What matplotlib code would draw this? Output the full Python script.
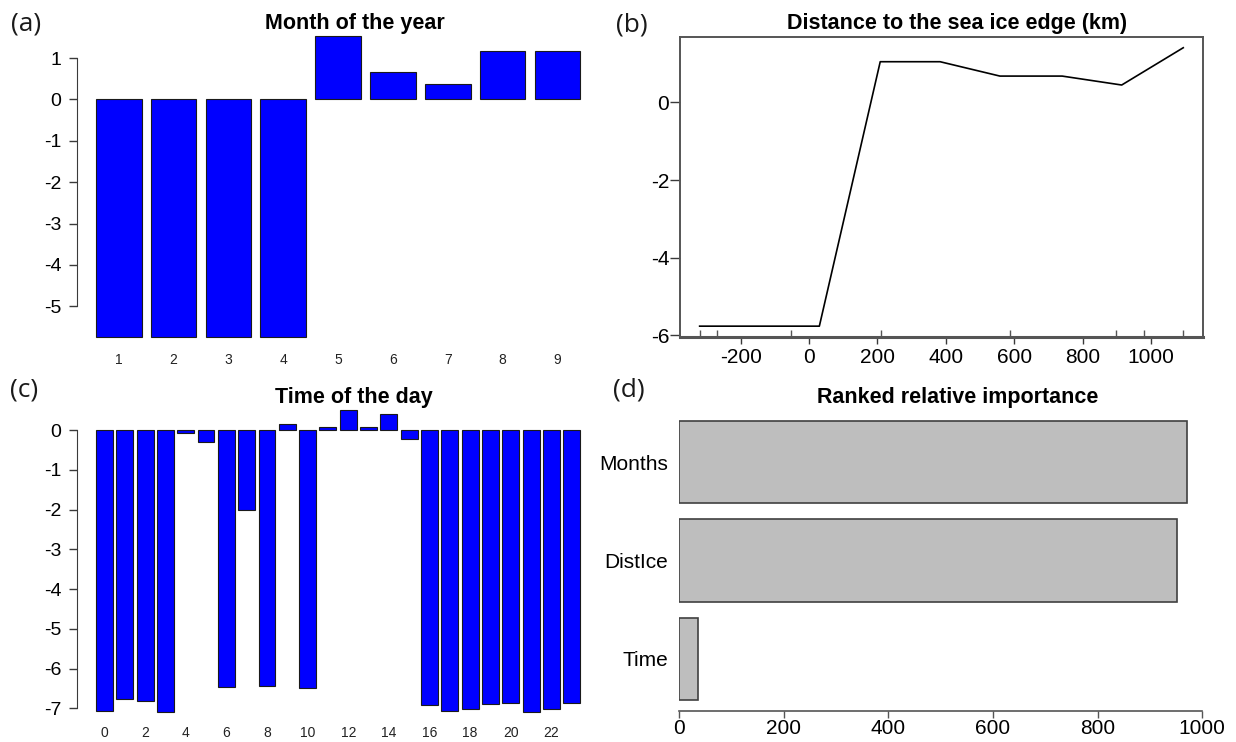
import numpy as np
import matplotlib
matplotlib.use('Agg')
import matplotlib.pyplot as plt

plt.rcParams['font.family'] = 'Liberation Sans'
plt.rcParams['axes.unicode_minus'] = False

# panel (a): month of the year
months = [1, 2, 3, 4, 5, 6, 7, 8, 9]
month_effect = [-5.74, -5.74, -5.74, -5.74, 1.53, 0.66, 0.37, 1.17, 1.17]

# panel (b): distance to the sea ice edge
dist_km = [-320, 30, 208, 383, 558, 740, 914, 1094]
dist_effect = [-5.76, -5.76, 1.05, 1.05, 0.68, 0.68, 0.45, 1.41]
rug_km = [-320, -269, -53, 210, 587, 896, 979, 1094]

# panel (c): time of the day
hours = list(range(24))
hour_effect = [-7.07, -6.77, -6.83, -7.09, -0.07, -0.29, -6.46, -2.00,
               -6.44, 0.15, -6.48, 0.09, 0.52, 0.07, 0.42, -0.22,
               -6.91, -7.07, -7.03, -6.90, -6.87, -7.10, -7.03, -6.87]

# panel (d): ranked relative importance (bottom to top)
imp_names = ['Time', 'DistIce', 'Months']
imp_values = [35.6, 952, 971.5]

W, H = 1236, 742
fig = plt.figure(figsize=(W / 100, H / 100), dpi=100)

AXC = '#3a3a3a'


def add_ax(left, top, right, bottom):
    return fig.add_axes([left / W, 1 - bottom / H, (right - left) / W, (bottom - top) / H])


def r_range(lo, hi):
    d = (hi - lo) * 0.04
    return lo - d, hi + d


def effect_bars(ax, labels, values, yticks, xlab_step, xlab_size):
    n = len(values)
    pos = [0.7 + 1.2 * i for i in range(n)]
    ax.bar(pos, values, width=1.0, color='#0000FF', edgecolor='#1a1a1a', linewidth=0.8)
    ax.set_xlim(*r_range(0.2, 1.2 * n))
    ax.set_ylim(*r_range(min(0, min(values)), max(0, max(values))))
    for s in ['top', 'right', 'bottom']:
        ax.spines[s].set_visible(False)
    ax.spines['left'].set_bounds(yticks[0], yticks[-1])
    ax.spines['left'].set_color(AXC)
    ax.set_yticks(yticks)
    ax.set_yticklabels([str(t) for t in yticks])
    ax.tick_params(axis='y', length=6, width=1, color=AXC, pad=5, labelsize=14)
    ax.set_xticks(pos[::xlab_step])
    ax.set_xticklabels([str(l) for l in labels[::xlab_step]])
    ax.tick_params(axis='x', length=0, pad=3, labelsize=xlab_size, labelcolor='#222222')


# (a)
ax_a = add_ax(76.6, 24.1, 599.6, 349.0)
effect_bars(ax_a, months, month_effect, [-5, -4, -3, -2, -1, 0, 1], 1, 10)

# (c)
ax_c = add_ax(76.6, 397.5, 599.6, 724.3)
effect_bars(ax_c, hours, hour_effect, [-7, -6, -5, -4, -3, -2, -1, 0], 2, 10)
ax_c.tick_params(axis='x', pad=1.5)

# (b)
ax_b = add_ax(680.3, 36.6, 1202.6, 337.3)
ax_b.plot(dist_km, dist_effect, color='black', linewidth=1.2)
ax_b.set_xlim(*r_range(min(dist_km), max(dist_km)))
ax_b.set_ylim(*r_range(min(dist_effect), max(dist_effect)))
for s in ax_b.spines.values():
    s.set_color('#555555')
    s.set_linewidth(1.4)
ax_b.spines['bottom'].set_linewidth(2.2)
ax_b.set_yticks([-6, -4, -2, 0])
ax_b.set_xticks([-200, 0, 200, 400, 600, 800, 1000])
ax_b.tick_params(axis='y', length=7, width=1, color=AXC, pad=1, labelsize=15)
ax_b.tick_params(axis='x', length=5, width=1, color=AXC, pad=3, labelsize=15)
ax_b.vlines(rug_km, 0, 0.024, transform=ax_b.get_xaxis_transform(), color='#555555', linewidth=1)

# (d)
ax_d = add_ax(679.2, 409.9, 1207.6, 711.1)
ypos = [0.7 + 1.2 * i for i in range(len(imp_values))]
ax_d.barh(ypos, imp_values, height=1.0, color='#BEBEBE', edgecolor='#404040', linewidth=1.2)
ax_d.set_xlim(0, r_range(0, max(imp_values))[1])
ax_d.set_ylim(*r_range(0.2, 1.2 * len(imp_values)))
for s in ['top', 'right', 'left']:
    ax_d.spines[s].set_visible(False)
ax_d.spines['bottom'].set_bounds(0, 1000)
ax_d.spines['bottom'].set_color('#555555')
ax_d.spines['bottom'].set_linewidth(1.2)
ax_d.set_xticks([0, 200, 400, 600, 800, 1000])
ax_d.tick_params(axis='x', length=5, width=1, color='#555555', pad=1, labelsize=15)
ax_d.set_yticks(ypos)
ax_d.set_yticklabels(imp_names)
ax_d.tick_params(axis='y', length=0, pad=8, labelsize=15)

# titles
title_kw = dict(fontsize=15.5, fontweight='bold', ha='center', va='center')
fig.text(355 / W, 1 - 23 / H, 'Month of the year', **title_kw)
fig.text(957 / W, 1 - 23 / H, 'Distance to the sea ice edge (km)', **title_kw)
fig.text(354 / W, 1 - 398 / H, 'Time of the day', **title_kw)
fig.text(958 / W, 1 - 398 / H, 'Ranked relative importance', **title_kw)

# panel letters
lab_kw = dict(fontsize=19, family='Open Sans', ha='center', va='center', color='#1a1a1a')
fig.text(26 / W, 1 - 24 / H, '(a)', **lab_kw)
fig.text(632 / W, 1 - 25 / H, '(b)', **lab_kw)
fig.text(24 / W, 1 - 390 / H, '(c)', **lab_kw)
fig.text(629 / W, 1 - 390 / H, '(d)', **lab_kw)

fig.savefig('out.png', dpi=100)
